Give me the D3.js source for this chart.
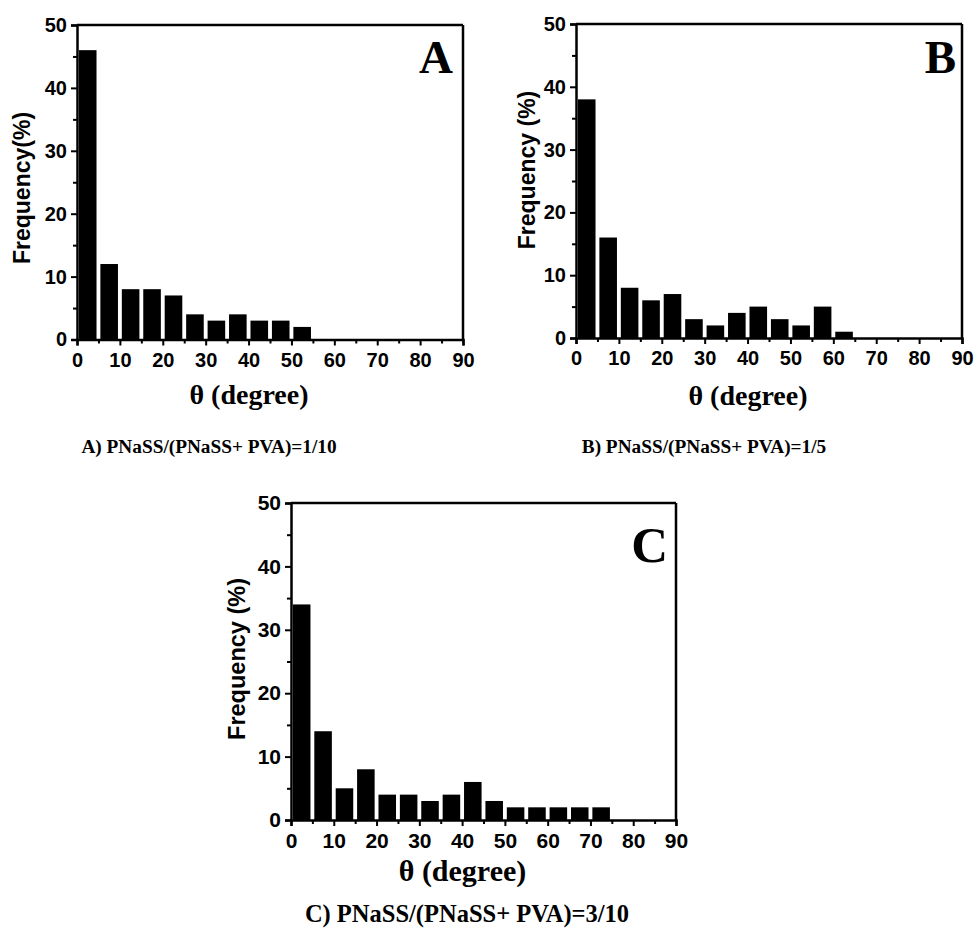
<!DOCTYPE html>
<html>
<head>
<meta charset="utf-8">
<script src="https://cdn.jsdelivr.net/npm/d3@7"></script>
<style>
  html, body { margin: 0; padding: 0; background: #fff; }
  svg { display: block; }
</style>
</head>
<body>
<svg id="chart" width="975" height="932"></svg>
<script>
// ---- data ----
const binStarts = [0, 5, 10, 15, 20, 25, 30, 35, 40, 45, 50, 55, 60, 65, 70, 75, 80, 85];
const binWidth = 5;
const freqA = [46, 12, 8, 8, 7, 4, 3, 4, 3, 3, 2];
const freqB = [38, 16, 8, 6, 7, 3, 2, 4, 5, 3, 2, 5, 1];
const freqC = [34, 14, 5, 8, 4, 4, 3, 4, 6, 3, 2, 2, 2, 2, 2];
const xMajorTicks = [0, 10, 20, 30, 40, 50, 60, 70, 80, 90];
const xMinorTicks = [5, 15, 25, 35, 45, 55, 65, 75, 85];
const yMajorTicks = [0, 10, 20, 30, 40, 50];
const yMinorTicks = [5, 15, 25, 35, 45];
const xDomain = [0, 90];
const yDomain = [0, 50];
const panelLetters = ["A", "B", "C"];
const yLabels = ["Frequency(%)", "Frequency (%)", "Frequency (%)"];
const xLabel = "θ (degree)";
const captions = [
  "A) PNaSS/(PNaSS+ PVA)=1/10",
  "B) PNaSS/(PNaSS+ PVA)=1/5",
  "C) PNaSS/(PNaSS+ PVA)=3/10"
];

const SANS = "'Liberation Sans', Arial, Helvetica, sans-serif";
const SERIF = "'Liberation Serif', 'Times New Roman', Times, serif";

const panels = [
  { values: freqA, left: 77, right: 463, top: 25, bottom: 339.5, tickFont: 20, yLabFont: 23,
    yLabX: 30, yLabY: 188, xLabFont: 28, xLabY: 404, capFont: 19.3, capX: 209, capY: 453,
    letterFont: 47, letterX: 453, letterY: 73 },
  { values: freqB, left: 576, right: 962, top: 24, bottom: 338, tickFont: 20, yLabFont: 23,
    yLabX: 535, yLabY: 170, xLabFont: 28, xLabY: 405, capFont: 19.3, capX: 704, capY: 453,
    letterFont: 47, letterX: 956, letterY: 73 },
  { values: freqC, left: 291, right: 676, top: 503, bottom: 820, tickFont: 21, yLabFont: 23.5,
    yLabX: 245, yLabY: 659, xLabFont: 30, xLabY: 881, capFont: 24.5, capX: 467, capY: 922,
    letterFont: 51, letterX: 668, letterY: 562 }
];

const svg = d3.select("#chart");
svg.append("rect").attr("width", 975).attr("height", 932).attr("fill", "#fff");

panels.forEach((p, i) => {
  const x = d3.scaleLinear().domain(xDomain).range([p.left, p.right]);
  const y = d3.scaleLinear().domain(yDomain).range([p.bottom, p.top]);
  const g = svg.append("g");

  // bars
  const bw = (x(binWidth) - x(0)) * 0.82;
  g.selectAll("rect.bar")
    .data(p.values)
    .join("rect")
    .attr("class", "bar")
    .attr("x", (d, j) => x(binStarts[j] + binWidth / 2) - bw / 2)
    .attr("width", bw)
    .attr("y", d => y(d))
    .attr("height", d => y(0) - y(d))
    .attr("fill", "#000");

  // frame top & right
  g.append("line").attr("x1", p.left).attr("x2", p.right).attr("y1", p.top).attr("y2", p.top)
    .attr("stroke", "#000").attr("stroke-width", 2.5);
  g.append("line").attr("x1", p.right).attr("x2", p.right).attr("y1", p.top).attr("y2", p.bottom)
    .attr("stroke", "#000").attr("stroke-width", 2.5);

  // x axis
  const xAx = g.append("g").attr("transform", `translate(0,${p.bottom})`)
    .call(d3.axisBottom(x).tickValues(xMajorTicks).tickSize(6).tickPadding(7).tickFormat(d3.format("d")));
  g.append("g").attr("transform", `translate(0,${p.bottom})`)
    .call(d3.axisBottom(x).tickValues(xMinorTicks).tickSize(4).tickFormat(""))
    .call(s => s.select(".domain").remove());

  // y axis
  const yAx = g.append("g").attr("transform", `translate(${p.left},0)`)
    .call(d3.axisLeft(y).tickValues(yMajorTicks).tickSize(6).tickPadding(4).tickFormat(d3.format("d")));
  g.append("g").attr("transform", `translate(${p.left},0)`)
    .call(d3.axisLeft(y).tickValues(yMinorTicks).tickSize(4).tickFormat(""))
    .call(s => s.select(".domain").remove());

  g.selectAll(".domain").attr("stroke", "#000").attr("stroke-width", 2.5);
  g.selectAll(".tick line").attr("stroke", "#000").attr("stroke-width", 2);
  g.selectAll(".tick text")
    .attr("fill", "#000")
    .style("font-family", SANS)
    .style("font-weight", "bold")
    .style("font-size", p.tickFont + "px");

  // y label
  g.append("text")
    .attr("transform", `translate(${p.yLabX},${p.yLabY}) rotate(-90)`)
    .attr("text-anchor", "middle")
    .style("font-family", SANS).style("font-weight", "bold").style("font-size", p.yLabFont + "px")
    .text(yLabels[i]);

  // x label
  g.append("text")
    .attr("x", (p.left + p.right) / 2 - 21)
    .attr("y", p.xLabY)
    .attr("text-anchor", "middle")
    .style("font-family", SERIF).style("font-weight", "bold").style("font-size", p.xLabFont + "px")
    .text(xLabel);

  // panel letter
  g.append("text")
    .attr("x", p.letterX).attr("y", p.letterY)
    .attr("text-anchor", "end")
    .style("font-family", SERIF).style("font-weight", "bold").style("font-size", p.letterFont + "px")
    .text(panelLetters[i]);

  // caption
  g.append("text")
    .attr("x", p.capX).attr("y", p.capY)
    .attr("text-anchor", "middle")
    .style("font-family", SERIF).style("font-weight", "bold").style("font-size", p.capFont + "px")
    .text(captions[i]);
});
</script>
</body>
</html>
